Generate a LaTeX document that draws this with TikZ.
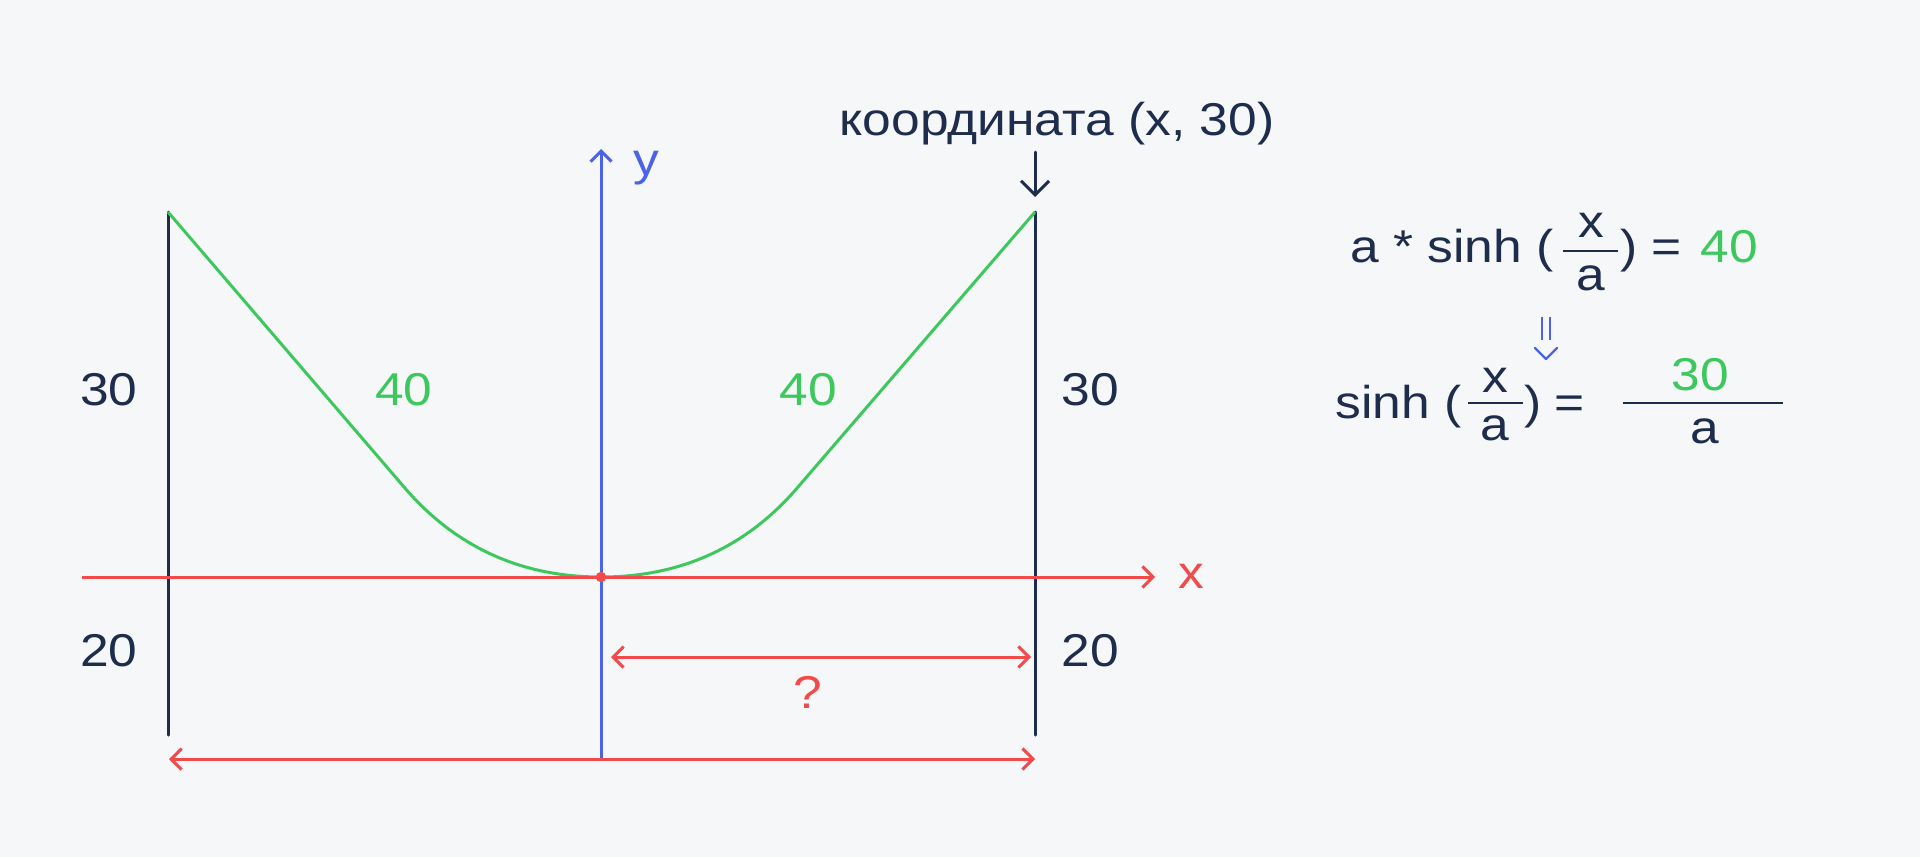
\documentclass[tikz,border=0pt]{standalone}
\usepackage{fontspec}
\setmainfont[FakeStretch=1.12]{Liberation Sans}
\usetikzlibrary{arrows.meta}
\definecolor{bg}{HTML}{F5F7F9}
\definecolor{navy}{HTML}{1F2D4D}
\definecolor{redc}{HTML}{F24A4A}
\definecolor{greenc}{HTML}{3DC85E}
\definecolor{bluec}{HTML}{4B63E9}
\tikzset{
  vtip/.tip={Straight Barb[length=5.25pt,width=10.5pt]},
  bigtip/.tip={Straight Barb[length=7pt,width=14pt]},
  lbl/.style={inner sep=0pt, anchor=base, font=\fontsize{23}{27}\selectfont},
  lblw/.style={lbl, anchor=base west},
  pole/.style={navy, line width=1.5pt, line cap=round},
  fracline/.style={navy, line width=1.3pt},
  redline/.style={redc, line width=1.5pt},
}
\begin{document}
\begin{tikzpicture}[x=0.5pt,y=-0.5pt]
\fill[bg] (0,0) rectangle (1920,857);
\useasboundingbox (0,0) rectangle (1920,857);
% coordinates
\coordinate (LT) at (168,212);
\coordinate (LB) at (168,735);
\coordinate (RT) at (1035,212);
\coordinate (RB) at (1035,735);
\coordinate (O) at (601,577);
\coordinate (YT) at (601,149);
\coordinate (YB) at (601,759);
\coordinate (XL) at (82,577);
\coordinate (XR) at (1155,577);
\coordinate (QL) at (611,657);
\coordinate (QR) at (1031,657);
\coordinate (BL) at (169,759);
\coordinate (BR) at (1035,759);
\coordinate (DT) at (1035,152);
\coordinate (DB) at (1035,197);
% poles
\draw[pole] (LT) -- (LB);
\draw[pole] (RT) -- (RB);
% catenary
\draw[greenc, line width=1.5pt, line join=round]
  (LT) -- (404,487) .. controls (455.3,547) and (521,577) .. (O)
  .. controls (681,577) and (746.7,547) .. (798,487) -- (RT);
% axes
\draw[redline, -{vtip}] (XL) -- (XR);
\draw[bluec, line width=1.5pt, -{vtip}] (YB) -- (YT);
\fill[redc] (O) circle[radius=2.6pt];
% dimension arrows
\draw[redline, {vtip}-{vtip}] (QL) -- (QR);
\draw[redline, {vtip}-{vtip}] (BL) -- (BR);
% down arrow
\draw[navy, line width=1.5pt, line cap=round, -{bigtip}] (DT) -- (DB);
% labels
\node[lbl, redc] (xl) at (1191,588) {x};
\node[lbl, bluec] (yl) at (646,175) {y};
\node[lbl, navy] (k) at (1057,135) {координата (x, 30)};
\node[lbl, navy] (l30) at (109,405) {30};
\node[lbl, navy] (l20) at (109,666) {20};
\node[lbl, navy] (r30) at (1090,405) {30};
\node[lbl, navy] (r20) at (1090,666) {20};
\node[lbl, greenc] (g40a) at (404,405) {40};
\node[lbl, greenc] (g40b) at (808,405) {40};
\node[lbl, redc] (q) at (808,708) {?};
% formula row 1
\node[lblw, navy] (f1a) at (1350,262) {a * sinh (};
\draw[fracline] (1563,251) coordinate (f1l) -- (1618,251) coordinate (f1r);
\node[lbl, navy] (f1x) at (1591,237) {x};
\node[lbl, navy] (f1d) at (1591,290) {a};
\node[lblw, navy] (f1p) at (1620,262) {)};
\node[lbl, navy] (f1e) at (1667,262) {=};
\node[lblw, greenc] (f140) at (1700,262) {40};
% implication arrow
\coordinate (I1t) at (1542,317); \coordinate (I1b) at (1542,340);
\coordinate (I2t) at (1550,317); \coordinate (I2b) at (1550,340);
\draw[bluec, line width=1.2pt] (I1t) -- (I1b);
\draw[bluec, line width=1.2pt] (I2t) -- (I2b);
\draw[bluec, line width=1.2pt, line cap=round, line join=round] (1535,348) -- (1546,359) coordinate (Itip) -- (1557,348);
% formula row 2
\node[lblw, navy] (f2s) at (1335,418) {sinh (};
\draw[fracline] (1468,403) coordinate (f2l) -- (1523,403) coordinate (f2r);
\node[lbl, navy] (f2x) at (1495,392) {x};
\node[lbl, navy] (f2d) at (1495,440) {a};
\node[lblw, navy] (f2p) at (1524,418) {)};
\node[lbl, navy] (f2e) at (1570,418) {=};
\draw[fracline] (1623,403) coordinate (f3l) -- (1783,403) coordinate (f3r);
\node[lbl, greenc] (f230) at (1700,390) {30};
\node[lbl, navy] (f2a) at (1705,443) {a};
\end{tikzpicture}
\end{document}
